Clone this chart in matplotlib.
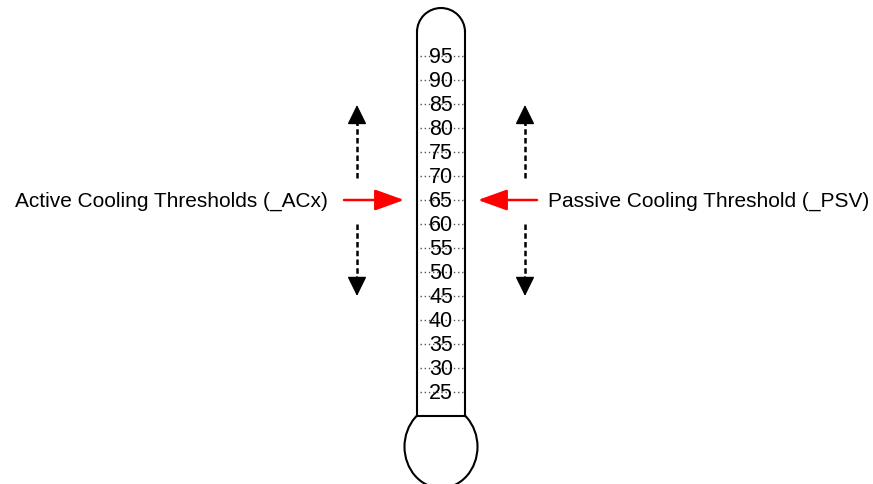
import matplotlib
matplotlib.use("Agg")
from matplotlib import pyplot as plt
from matplotlib.patches import Arc, Ellipse, FancyArrowPatch

plt.rcParams['font.family'] = ['Liberation Sans', 'DejaVu Sans']

# scale marks on the thermometer
temps = [25, 30, 35, 40, 45, 50, 55, 60, 65, 70, 75, 80, 85, 90, 95]
tick_labels = [str(t) for t in temps]
# thresholds
active_threshold = 65
passive_threshold = 65
active_label = "Active Cooling Thresholds (_ACx)"
passive_label = "Passive Cooling Threshold (_PSV)"
# range of the dashed "can move" arrows
move_up = (69.6, 84.8)
move_down = (60, 45)

fig = plt.figure(figsize=(8.73, 4.85), dpi=100)
ax = fig.add_axes([0, 0, 1, 1])
ax.set_xlim(0, 873)
ax.set_ylim(5.833, 106.875)
ax.axis("off")

# tube
tube_l, tube_r = 417, 465
tube_top, tube_bot = 100, 20
ax.plot([tube_l, tube_l], [tube_bot, tube_top], color="black", lw=1.5)
ax.plot([tube_r, tube_r], [tube_bot, tube_top], color="black", lw=1.5)
ax.add_patch(Arc(((tube_l + tube_r) / 2, tube_top), tube_r - tube_l, 10,
                 theta1=0, theta2=180, color="black", lw=1.5))
# bulb
bulb = Ellipse((441, 13.6), 73, 17.2, fill=False, color="black", lw=1.5)
ax.add_patch(bulb)
ax.plot([tube_l, tube_r], [tube_bot, tube_bot], color="black", lw=1.5)
# hide the part of the bulb inside the tube
ax.fill_between([tube_l + 1, tube_r - 1], tube_bot + 0.3, tube_bot + 5, color="white", zorder=1)

for t, lab in zip(temps, tick_labels):
    ax.plot([420, 463], [t, t], color="#555555", lw=1, ls=(0, (1, 2)), zorder=2)
    ax.text(441, t - 0.2, lab, ha="center", va="center", fontsize=15.5, zorder=3)

# red threshold arrows
red_style = "-|>,head_length=1.8,head_width=0.65"
ax.add_patch(FancyArrowPatch((344, active_threshold), (404, active_threshold),
                             arrowstyle=red_style, color="red", lw=1.8,
                             mutation_scale=10, shrinkA=0, shrinkB=0))
ax.add_patch(FancyArrowPatch((537, passive_threshold), (478, passive_threshold),
                             arrowstyle=red_style, color="red", lw=1.8,
                             mutation_scale=10, shrinkA=0, shrinkB=0))

# dashed black arrows: dashed shaft + solid head
head = 17 / 4.8
for x in (357, 525):
    for a, b in (move_up, move_down):
        d = 1 if b > a else -1
        ax.plot([x, x], [a, b - d * head], color="black", lw=1.8, ls=(0, (2.2, 1.3)))
        ax.add_patch(FancyArrowPatch((x, b - d * (head + 0.5)), (x, b),
                                     arrowstyle="-|>,head_length=1.22,head_width=0.6",
                                     color="black", lw=1, mutation_scale=10,
                                     shrinkA=0, shrinkB=0))

ax.text(328, active_threshold, active_label, ha="right", va="center", fontsize=15)
ax.text(548, passive_threshold, passive_label, ha="left", va="center", fontsize=15)

fig.savefig("out.png", dpi=100)
